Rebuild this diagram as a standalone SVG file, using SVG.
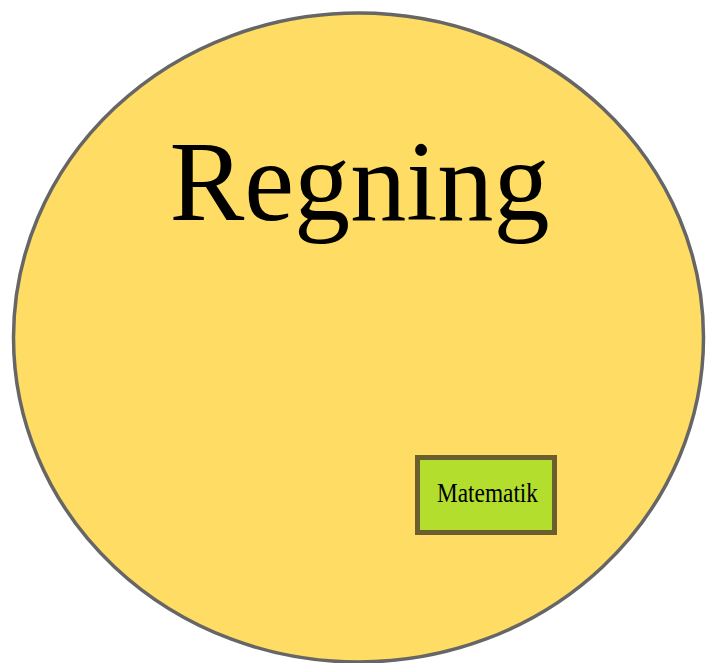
<svg xmlns="http://www.w3.org/2000/svg" width="706" height="663" viewBox="0 0 706 663">
<style>
.t{font-family:"Liberation Serif","Times New Roman",serif;fill:#000}
</style>
<rect width="706" height="663" fill="#ffffff"/>
<g id="regning">
<ellipse cx="358.5" cy="337.5" rx="345" ry="324.5" fill="#ffdc64" stroke="#666666" stroke-width="3.5"/>
<text class="t" x="359.5" y="220" font-size="115" text-anchor="middle" textLength="380" lengthAdjust="spacingAndGlyphs">Regning</text>
</g>
<g id="matematik">
<rect x="417.5" y="457.5" width="137" height="75" fill="#b3de2e" stroke="#6b5f30" stroke-width="5"/>
<text class="t" x="487.5" y="502" font-size="27" text-anchor="middle" textLength="101" lengthAdjust="spacingAndGlyphs">Matematik</text>
</g>
<g id="connectors"></g>
</svg>
